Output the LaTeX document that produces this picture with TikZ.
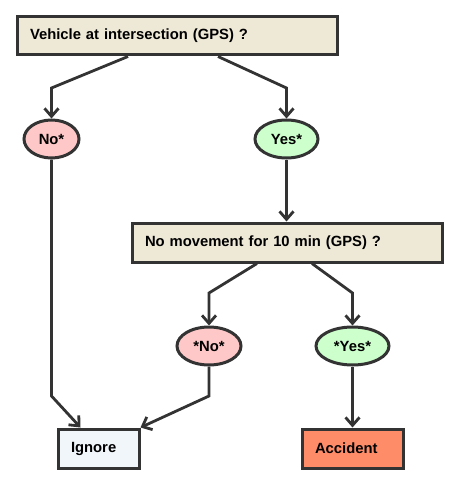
\documentclass[tikz,border=0pt]{standalone}
\usepackage{fontspec}
\setmainfont{Liberation Sans}
\usetikzlibrary{shapes.geometric,arrows.meta}
\definecolor{ink}{HTML}{333333}
\definecolor{qfill}{HTML}{EEE8D6}
\definecolor{nofill}{HTML}{FFC8C8}
\definecolor{yesfill}{HTML}{CCFFCC}
\definecolor{igfill}{HTML}{F0F6FA}
\definecolor{accfill}{HTML}{FF8C69}
\tikzset{
  qbox/.style={draw=ink, line width=3pt, fill=qfill, rectangle, inner xsep=13pt, inner ysep=0pt, align=left, minimum height=38pt, font=\fontsize{14.8}{16}\selectfont\bfseries},
  endbox/.style={draw=ink, line width=3pt, rectangle, inner xsep=13pt, inner ysep=0pt, align=left, minimum height=39pt, font=\fontsize{14.8}{16}\selectfont\bfseries},
  oval/.style={draw=ink, line width=3pt, ellipse, inner sep=0pt, minimum height=38pt, font=\fontsize{14.8}{16}\selectfont\bfseries},
  arr/.style={draw=ink, line width=2.8pt, line join=miter, -{Straight Barb[length=8pt,width=14pt]}}
}
\begin{document}
\begin{tikzpicture}[x=1pt,y=-1pt]
\useasboundingbox (0,0) rectangle (458,484);
\node[qbox, text width=294pt] (q1) at (177,36) {Vehicle at intersection (GPS) ?};
\node[oval, fill=nofill, minimum width=55pt] (no1) at (51.5,139) {No*};
\node[oval, fill=yesfill, minimum width=63pt] (yes1) at (286.5,139) {Yes*};
\node[qbox, text width=284pt, minimum height=39pt] (q2) at (287,242.5) {No movement for 10 min (GPS) ?};
\node[oval, fill=nofill, minimum width=64pt] (no2) at (209,346) {*No*};
\node[oval, fill=yesfill, minimum width=73pt] (yes2) at (352.5,346) {*Yes*};
\node[endbox, fill=igfill, text width=55pt] (ig) at (98.5,448.5) {Ignore};
\node[endbox, fill=accfill, text width=75pt] (acc) at (352.5,448.5) {Accident};
\coordinate (b1) at (51.5,88);
\coordinate (b2) at (286.5,88);
\coordinate (b3) at (209,293);
\coordinate (b4) at (352.5,293);
\coordinate (b5) at (51.5,396);
\coordinate (b6) at (209,396);
\draw[arr] ([xshift=-49pt]q1.south) -- (b1) -- (no1.north);
\draw[arr] ([xshift=41pt]q1.south) -- (b2) -- (yes1.north);
\draw[arr] (yes1.south) -- (yes1.south |- q2.north);
\draw[arr] ([xshift=-30pt]q2.south) -- (b3) -- (no2.north);
\draw[arr] ([xshift=25pt]q2.south) -- (b4) -- (yes2.north);
\draw[arr] (no1.south) -- (b5) -- ([xshift=-18pt]ig.north);
\draw[arr] (no2.south) -- (b6) -- (ig.north east);
\draw[arr] (yes2.south) -- (acc.north);
\end{tikzpicture}
\end{document}
